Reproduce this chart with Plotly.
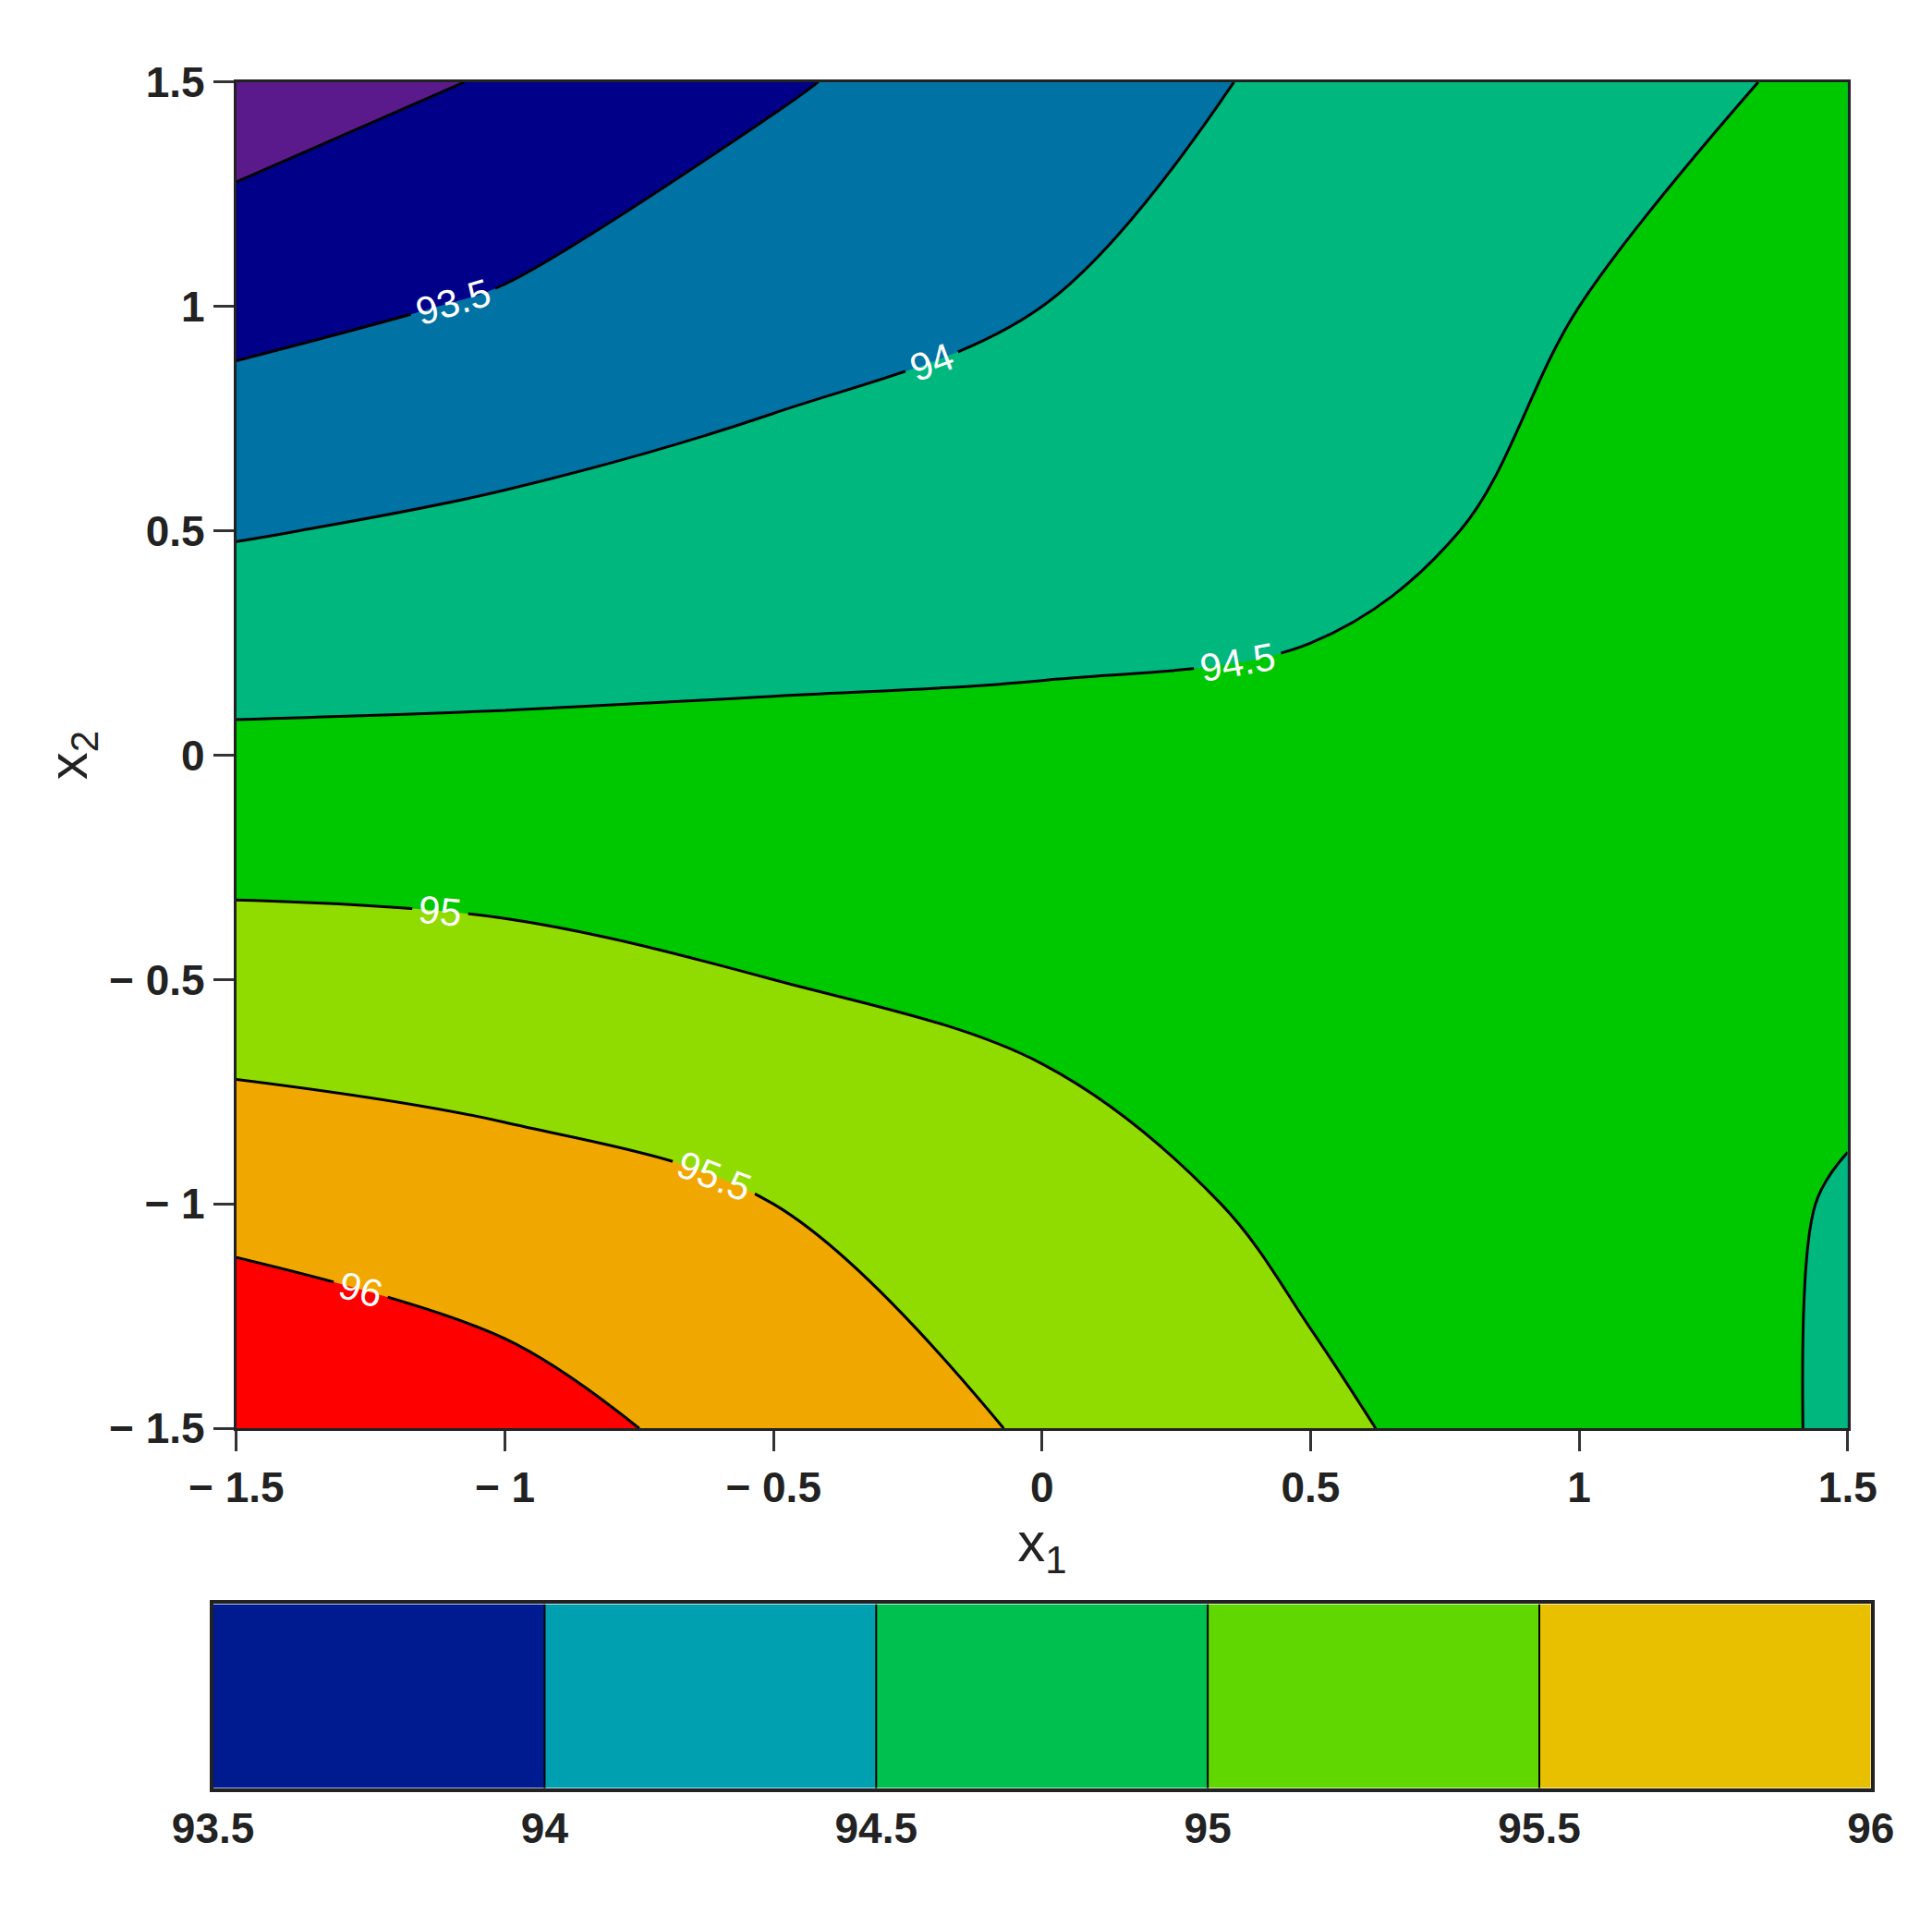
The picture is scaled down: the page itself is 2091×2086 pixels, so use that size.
import plotly.graph_objects as go

x1 = [-1.5, -1.0, -0.5, 0.0, 0.5, 1.0, 1.5]
x2 = [-1.5, -1.0, -0.5, 0.0, 0.5, 1.0, 1.5]
# z[row = x2 index][col = x1 index]
z = [
    [96.48, 96.20, 95.80, 95.45, 95.08, 94.75, 94.45],
    [95.85, 95.70, 95.50, 95.20, 94.90, 94.72, 94.47],
    [95.22, 95.15, 95.00, 94.88, 94.75, 94.70, 94.60],
    [94.60, 94.60, 94.60, 94.60, 94.60, 94.65, 94.75],
    [93.97, 94.10, 94.22, 94.30, 94.40, 94.58, 94.75],
    [93.35, 93.55, 93.80, 94.00, 94.25, 94.50, 94.70],
    [92.72, 93.05, 93.45, 93.75, 94.10, 94.40, 94.55],
]
tick_vals = [-1.5, -1, -0.5, 0, 0.5, 1, 1.5]
tick_text = ["− 1.5", "− 1", "− 0.5", "0", "0.5", "1", "1.5"]

band_colors = ["#5a1a8c", "#000088", "#0072a3", "#00b87e", "#00c800", "#90dc00", "#f0a800", "#ff0000"]
cb_edges = [93.5, 94, 94.5, 95, 95.5, 96]
cb_colors = ["#001a90", "#00a0b0", "#00c050", "#60d800", "#e8c000"]

lo, hi = 92.5, 96.5
def pos(v):
    return (v - lo) / (hi - lo)
bounds = [lo, 93, 93.5, 94, 94.5, 95, 95.5, 96, hi]
cs = []
for i, c in enumerate(band_colors):
    cs.append([pos(bounds[i]), c])
    cs.append([pos(bounds[i + 1]), c])

fig = go.Figure()
fig.add_trace(go.Contour(
    x=x1, y=x2, z=z, zmin=lo, zmax=hi, colorscale=cs, showscale=False,
    contours=dict(start=93, end=96, size=0.5, coloring="fill", showlabels=True,
                  labelfont=dict(size=42, color="white", family="Liberation Sans Narrow, Liberation Sans")),
    line=dict(color="black", width=3),
))

# discrete colour bar drawn as a heatmap
fig.add_trace(go.Heatmap(
    x=cb_edges, y=[0, 1], z=[list(range(len(cb_colors)))],
    colorscale=[[i / (len(cb_colors) - 1), c] for i, c in enumerate(cb_colors)],
    showscale=False, xaxis="x2", yaxis="y2", hoverinfo="skip",
))
for e in cb_edges[1:-1]:
    fig.add_shape(type="line", xref="x2", yref="y2", x0=e, x1=e, y0=0, y1=1,
                  line=dict(color="black", width=2))

tf = dict(family="Liberation Sans", size=46, color="#222", weight="bold")
fig.update_layout(
    width=2091, height=2086, margin=dict(l=0, r=0, t=0, b=0),
    paper_bgcolor="white", plot_bgcolor="white", showlegend=False,
    xaxis=dict(domain=[0.0976, 0.9665], range=[-1.5, 1.5], tickvals=tick_vals, ticktext=tick_text,
               ticks="outside", ticklen=22, tickwidth=3, tickcolor="#333", showline=True,
               linecolor="#222", linewidth=3, mirror=True, showgrid=False, zeroline=False,
               tickfont=tf,
               title=dict(text="x<sub>1</sub>", font=dict(family="Liberation Sans", size=60, color="#222"), standoff=0)),
    yaxis=dict(domain=[0.2565, 0.973], range=[-1.5, 1.5], tickvals=tick_vals, ticktext=tick_text,
               ticks="outside", ticklen=22, tickwidth=3, tickcolor="#333", showline=True,
               linecolor="#222", linewidth=3, mirror=True, showgrid=False, zeroline=False,
               tickfont=tf,
               title=dict(text="x<sub>2</sub>", font=dict(family="Liberation Sans", size=60, color="#222"), standoff=5)),
    xaxis2=dict(domain=[0.085, 0.979], anchor="y2", range=[93.5, 96], tickvals=cb_edges,
                ticktext=["93.5", "94", "94.5", "95", "95.5", "96"], ticks="", showline=True,
                linecolor="#222", linewidth=4, mirror=True, showgrid=False, zeroline=False,
                tickfont=tf),
    yaxis2=dict(domain=[0.065, 0.163], anchor="x2", range=[0, 1], showticklabels=False, ticks="",
                showline=True, linecolor="#222", linewidth=4, mirror=True, showgrid=False, zeroline=False),
)
fig.write_html("out.html")
